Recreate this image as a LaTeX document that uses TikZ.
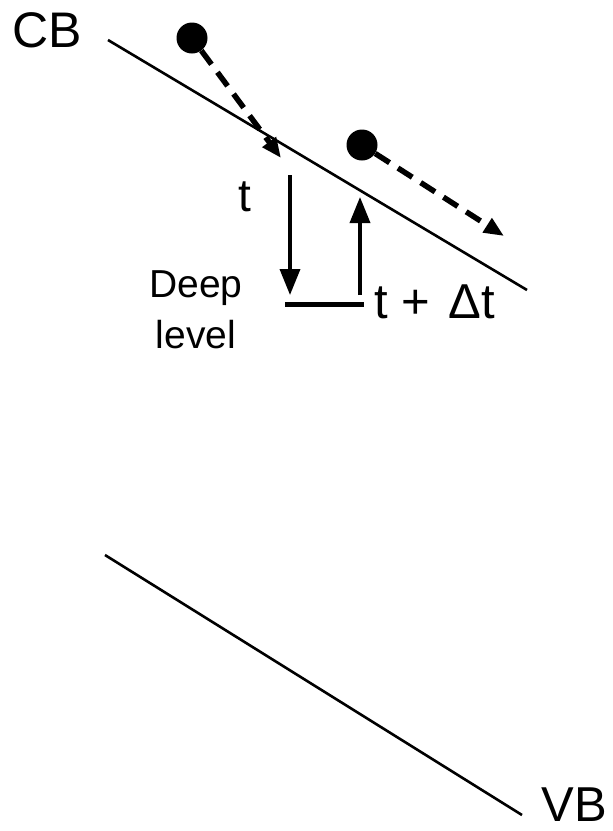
\documentclass[tikz,border=0pt]{standalone}
\usepackage{fontspec}
\setmainfont{Liberation Sans}
\usetikzlibrary{arrows.meta}
\begin{document}
\begin{tikzpicture}[x=1pt,y=-1pt,
  band/.style={line width=2.6pt},
  lbl/.style={inner sep=0pt,font=\fontsize{46}{50}\selectfont},
  smalllbl/.style={inner sep=0pt,font=\fontsize{39}{51}\selectfont,align=center},
  electron/.style={circle,fill=black,minimum size=31pt,inner sep=0pt},
  trans/.style={line width=3.6pt,-{Triangle[length=26pt,width=20pt]}},
  hot/.style={line width=5.5pt,dash pattern=on 17pt off 10pt,-{Triangle[length=20pt,width=16pt]}}
]
\useasboundingbox (0,0) rectangle (613,831);
% bands
\coordinate (cb1) at (108,40);
\coordinate (cb2) at (527,290);
\coordinate (vb1) at (105,555);
\coordinate (vb2) at (522,815);
\draw[band] (cb1) -- (cb2);
\draw[band] (vb1) -- (vb2);
\node[lbl,font=\fontsize{50}{52}\selectfont] (cb) at (47,30) {CB};
\node[lbl,font=\fontsize{49}{52}\selectfont] (vb) at (574,805) {VB};
% electrons
\node[electron] (e1) at (192,38) {};
\node[electron] (e2) at (362,145) {};
\coordinate (e1t) at (281,158);
\coordinate (e2t) at (504,236);
\draw[hot] (e1) -- (e1t);
\draw[hot] (e2) -- (e2t);
% deep level
\coordinate (dl1) at (285,304.5);
\coordinate (dl2) at (364,304.5);
\draw[line width=5pt] (dl1) -- (dl2);
\coordinate (dtop) at (290,175);
\coordinate (dbot) at (290,295);
\coordinate (utop) at (360,197);
\coordinate (ubot) at (360,295);
\draw[trans] (dtop) -- (dbot);
\draw[trans] (ubot) -- (utop);
\node[lbl,anchor=base] (t) at (245,211) {t};
\node[lbl,font=\fontsize{49}{52}\selectfont,anchor=base west] (tdt) at (374,318) {t\hspace{14pt}+\hspace{18pt}Δt};
\node[smalllbl,anchor=north] (deep) at (196,270) {Deep\\level};
\end{tikzpicture}
\end{document}
